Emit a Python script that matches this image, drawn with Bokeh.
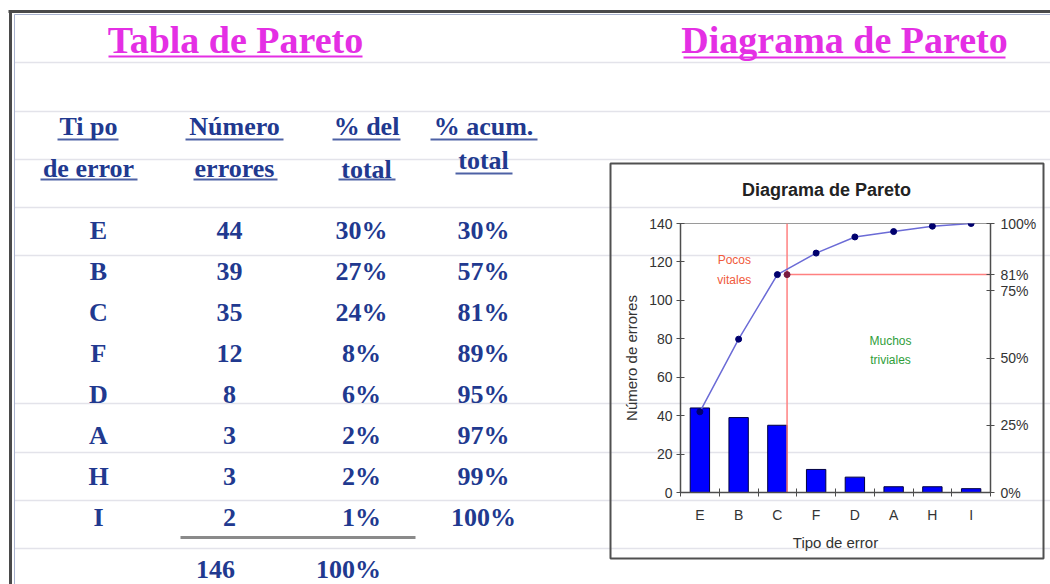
import numpy as np
from bokeh.plotting import figure
from bokeh.models import Range1d, LinearAxis, FixedTicker
from bokeh.core.properties import value
from bokeh.embed import file_html
from bokeh.resources import INLINE

# ---------------- data ----------------
tipos = ["E", "B", "C", "F", "D", "A", "H", "I"]
errores = [44, 39, 35, 12, 8, 3, 3, 2]
pct_total = [30, 27, 24, 8, 6, 2, 2, 1]
pct_acum = [30, 57, 81, 89, 95, 97, 99, 100]
total_errores = 146
total_pct = 100
y_ticks = [0, 20, 40, 60, 80, 100, 120, 140]
pct_ticks = [0, 25, 50, 75, 100]
pct_tick_labels = ["0%", "25%", "50%", "75%", "100%"]
n_vitales = 3
headers_1 = ["Ti po", "Número", "% del", "% acum."]
headers_2 = ["de error", "errores", "total", "total"]
chart_title = "Diagrama de Pareto"

# ---------------- styles ----------------
W, H = 1050, 584
BLUE = "#21398f"
MAG = "#e42fe4"
SERIF = value("Liberation Serif")
SANS = "Liberation Sans"
GRID = "#e3e3ea"

# ---------------- background sheet ----------------
bg = figure(width=W, height=H, x_range=Range1d(0, W), y_range=Range1d(H, 0),
            min_border=0, toolbar_location=None, output_backend="svg",
            x_axis_location=None, y_axis_location=None)
bg.grid.visible = False
bg.outline_line_color = None
bg.background_fill_color = "white"
bg.border_fill_color = "white"

row_lines = [62, 111, 159, 207, 255, 403, 452, 500, 548]
bg.segment(x0=[14] * len(row_lines), x1=[W] * len(row_lines), y0=row_lines, y1=row_lines,
           line_color=GRID, line_width=1.5)

# window frame
bg.segment(x0=[8, 10], x1=[W, 10], y0=[11, 11], y1=[11, H], line_color="#4a4a4a", line_width=3)
bg.segment(x0=[14, 14], x1=[W, 14], y0=[14, 14], y1=[14, H], line_color="#a9b3cf", line_width=1)

# titles
bg.text(x=[235, 844], y=[39, 39], text=["Tabla de Pareto", "Diagrama de Pareto"],
        text_font=SERIF, text_font_style="bold", text_font_size="38px",
        text_color=MAG, text_align="center", text_baseline="middle")
bg.segment(x0=[108, 683], x1=[362, 1005], y0=[56, 57], y1=[56, 57], line_color=MAG, line_width=2)

# headers
hx = [88, 234, 366, 483]
bg.text(x=hx, y=[126] * 4, text=headers_1, text_font=SERIF, text_font_style="bold",
        text_font_size="26px", text_color=BLUE, text_align="center", text_baseline="middle")
bg.text(x=hx, y=[168, 168, 169, 160], text=headers_2, text_font=SERIF, text_font_style="bold",
        text_font_size="26px", text_color=BLUE, text_align="center", text_baseline="middle")
bg.segment(x0=[57, 185, 332, 430, 40, 193, 338, 455], x1=[118, 283, 400, 537, 137, 277, 395, 512],
           y0=[139] * 4 + [179, 179, 179, 173], y1=[139] * 4 + [179, 179, 179, 173],
           line_color=BLUE, line_width=2, line_alpha=0.8)

# table body
cx = [98, 229, 361, 483]
ry = [230 + 41 * i for i in range(len(tipos))]
cols = [tipos, [str(v) for v in errores], [f"{v}%" for v in pct_total], [f"{v}%" for v in pct_acum]]
for x, col in zip(cx, cols):
    bg.text(x=[x] * len(col), y=ry, text=col, text_font=SERIF, text_font_style="bold",
            text_font_size="26px", text_color=BLUE, text_align="center", text_baseline="middle")
bg.segment(x0=[180], x1=[415], y0=[537], y1=[537], line_color="#8a8a8a", line_width=3)
bg.text(x=[215, 348], y=[569, 569], text=[str(total_errores), f"{total_pct}%"], text_font=SERIF,
        text_font_style="bold", text_font_size="26px", text_color=BLUE, text_align="center",
        text_baseline="middle")

# chart area border and chart title
bg.quad(left=[610], right=[1043], top=[163], bottom=[558], fill_color=None,
        line_color="#505050", line_width=2)
bg.text(x=[826], y=[189], text=[chart_title], text_font=value(SANS), text_font_style="bold",
        text_font_size="18px", text_color="#222222", text_align="center", text_baseline="middle")

# ---------------- Pareto chart ----------------
n = len(tipos)
xs = [i + 0.5 for i in range(n)]
chart = figure(width=429, height=391, x_range=Range1d(0, n), y_range=Range1d(y_ticks[0], y_ticks[-1]),
               toolbar_location=None, output_backend="svg",
               min_border_left=68, min_border_right=51, min_border_top=58, min_border_bottom=64)
chart.extra_y_ranges = {"pct": Range1d(pct_ticks[0], pct_ticks[-1])}
chart.background_fill_color = None
chart.border_fill_color = None
chart.grid.visible = False
chart.outline_line_color = "#9a9a9a"
chart.outline_line_width = 1

right = LinearAxis(y_range_name="pct")
chart.add_layout(right, "right")

for ax in chart.axis:
    ax.axis_line_color = "#4d4d4d"
    ax.axis_line_width = 1.5
    ax.major_tick_line_color = "#4d4d4d"
    ax.minor_tick_line_color = "#4d4d4d"
    ax.major_label_text_font = SANS
    ax.major_label_text_font_size = "14px"
    ax.major_label_text_color = "#333333"
    ax.axis_label_text_font = SANS
    ax.axis_label_text_font_size = "15px"
    ax.axis_label_text_font_style = "normal"
    ax.axis_label_text_color = "#333333"

xa = chart.xaxis[0]
xa.ticker = FixedTicker(ticks=xs, minor_ticks=list(range(n + 1)))
xa.major_label_overrides = {x: t for x, t in zip(xs, tipos)}
xa.major_tick_in = 0
xa.major_tick_out = 0
xa.minor_tick_in = 4
xa.minor_tick_out = 4
xa.major_label_standoff = 10
xa.axis_label = "Tipo de error"
xa.axis_label_standoff = 8

ya = chart.yaxis[0]
ya.ticker = FixedTicker(ticks=y_ticks, minor_ticks=[])
ya.major_tick_in = 4
ya.major_tick_out = 4
ya.major_label_standoff = 4
ya.axis_label = "Número de errores"
ya.axis_label_standoff = 6

# right axis: percentage ticks plus the Pareto cut value
y_cut = pct_acum[n_vitales - 1]
right_ticks = sorted(pct_ticks + [y_cut])
right.ticker = FixedTicker(ticks=right_ticks, minor_ticks=[])
right_labels = {t: l for t, l in zip(pct_ticks, pct_tick_labels)}
right_labels[y_cut] = f"{y_cut}%"
right.major_label_overrides = right_labels
right.major_tick_in = 4
right.major_tick_out = 4
right.major_label_standoff = 6

# bars
chart.vbar(x=xs, top=errores, width=0.5, fill_color="#0000ff", line_color="#000040", line_width=1)

# pareto cut lines
x_cut = n_vitales - 0.25
chart.segment(x0=[x_cut, x_cut], x1=[x_cut, n], y0=[pct_ticks[0], y_cut], y1=[pct_ticks[-1], y_cut],
              y_range_name="pct", line_color="#ff8080", line_width=1.5)

# cumulative line
chart.line(x=xs, y=pct_acum, y_range_name="pct", line_color="#6b6bd6", line_width=1.5)
chart.scatter(x=xs, y=pct_acum, y_range_name="pct", size=6, fill_color="#00006e", line_color="#00006e")
chart.scatter(x=[x_cut], y=[y_cut], y_range_name="pct", size=6, fill_color="#7a1a40", line_color="#7a1a40")

chart.text(x=[1.39], y=[82.8], text=["Pocos\nvitales"], y_range_name="pct", text_font=value(SANS),
           text_font_size="12px", text_color="#f05a3c", text_align="center", text_baseline="middle",
           text_line_height=1.4)
chart.text(x=[5.42], y=[52.8], text=["Muchos\ntriviales"], y_range_name="pct", text_font=value(SANS),
           text_font_size="12px", text_color="#2f9e3a", text_align="center", text_baseline="middle",
           text_line_height=1.4)

chart.styles = {"position": "absolute", "left": "612px", "top": "165px"}

open("out.html", "w").write(file_html([bg, chart], INLINE))
